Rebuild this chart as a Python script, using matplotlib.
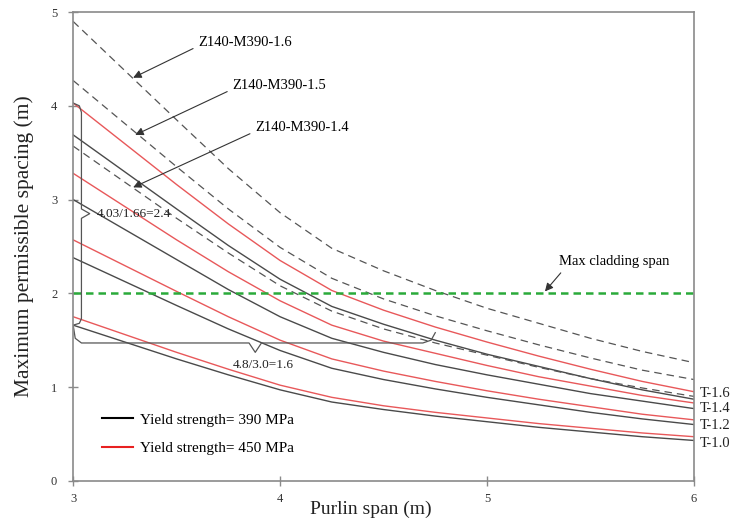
import numpy as np
import matplotlib.pyplot as plt
from matplotlib.lines import Line2D

plt.rcParams['font.family'] = 'Liberation Serif'

span = [3.0, 3.5, 3.75, 4.0, 4.25, 4.5, 4.75, 5.0, 5.25, 5.5, 5.75, 6.0]

# yield strength 390 MPa (black) / 450 MPa (red), thickness 1.0 .. 1.6
black_10 = [1.66, 1.30, 1.13, 0.97, 0.84, 0.76, 0.69, 0.63, 0.57, 0.52, 0.47, 0.43]
red_10 = [1.75, 1.37, 1.19, 1.02, 0.89, 0.80, 0.73, 0.67, 0.61, 0.56, 0.51, 0.47]
black_12 = [2.38, 1.87, 1.62, 1.39, 1.20, 1.08, 0.98, 0.89, 0.81, 0.73, 0.66, 0.60]
red_12 = [2.57, 2.02, 1.75, 1.50, 1.30, 1.17, 1.06, 0.96, 0.87, 0.79, 0.71, 0.65]
black_14 = [3.00, 2.36, 2.04, 1.75, 1.52, 1.37, 1.24, 1.13, 1.03, 0.93, 0.85, 0.77]
red_14 = [3.28, 2.57, 2.23, 1.92, 1.66, 1.49, 1.36, 1.23, 1.11, 1.01, 0.91, 0.83]
black_16 = [3.69, 2.90, 2.51, 2.15, 1.86, 1.67, 1.50, 1.35, 1.22, 1.09, 0.97, 0.87]
red_16 = [4.03, 3.16, 2.74, 2.35, 2.03, 1.82, 1.64, 1.48, 1.33, 1.19, 1.06, 0.95]

# Z140-M390 sections
z14 = [3.57, 2.80, 2.43, 2.08, 1.81, 1.62, 1.47, 1.34, 1.21, 1.09, 0.99, 0.90]
z15 = [4.27, 3.35, 2.90, 2.49, 2.16, 1.94, 1.76, 1.60, 1.45, 1.31, 1.18, 1.08]
z16 = [4.90, 3.85, 3.33, 2.86, 2.48, 2.24, 2.03, 1.84, 1.68, 1.52, 1.38, 1.26]

cladding = 2.0
t_labels = ["T-1.6", "T-1.4", "T-1.2", "T-1.0"]
t_label_y = [0.93, 0.77, 0.585, 0.40]

fig = plt.figure(figsize=(7.39, 5.26), dpi=100)
ax = fig.add_axes([0.099, 0.086, 0.84, 0.891])

blk = '#4a4a4a'
red = '#e8585a'
for ys in [black_10, black_12, black_14, black_16]:
    ax.plot(span, ys, color=blk, lw=1.0)
for ys in [red_10, red_12, red_14, red_16]:
    ax.plot(span, ys, color=red, lw=1.0)
for ys in [z14, z15, z16]:
    ax.plot(span, ys, color='#555555', lw=0.9, ls=(0, (6, 4)))

ax.axhline(cladding, color='#2aaa3a', lw=1.8, ls=(0, (3, 2)))

ax.set_xlim(3, 6)
ax.set_ylim(0, 5)
ax.set_xticks([3, 4, 5, 6])
ax.set_yticks([0, 1, 2, 3, 4, 5])
for s in ax.spines.values():
    s.set_color('#8a8a8a')
    s.set_linewidth(1.2)
ax.tick_params(direction='inout', length=7, width=1, color='#8a8a8a',
               labelsize=9, labelcolor='#333333')
ax.tick_params(axis='x', pad=5)
ax.tick_params(axis='y', pad=8)

ax.set_xlabel('Purlin span (m)', fontsize=14, color='#222222')
ax.xaxis.set_label_coords(0.48, -0.042)
ax.set_ylabel('Maximum permissible spacing (m)', fontsize=15.5, color='#222222', labelpad=12)

for lab, y in zip(t_labels, t_label_y):
    ax.text(6.03, y, lab, fontsize=10.5, va='center', ha='left', color='#222222', clip_on=False)

def arr(rp):
    return dict(arrowstyle='-|>', color='#333333', lw=0.8, mutation_scale=12,
                relpos=rp, shrinkA=2, shrinkB=0)

ax.annotate('Z140-M390-1.6', xy=(3.29, 4.3), xytext=(3.605, 4.68), fontsize=10.5,
            va='center', arrowprops=arr((0, 0.2)))
ax.annotate('Z140-M390-1.5', xy=(3.3, 3.69), xytext=(3.77, 4.22), fontsize=10.5,
            va='center', arrowprops=arr((0, 0.2)))
ax.annotate('Z140-M390-1.4', xy=(3.29, 3.13), xytext=(3.88, 3.77), fontsize=10.5,
            va='center', arrowprops=arr((0, 0.2)))
ax.annotate('Max cladding span', xy=(5.28, 2.02), xytext=(5.35, 2.27), fontsize=10.5,
            va='bottom', ha='left', arrowprops=arr((0.05, 0)))

# braces
bc = '#555555'
ax.plot([3.0, 3.03, 3.04, 3.04, 3.08, 3.04, 3.04, 3.03, 3.0],
        [4.03, 4.0, 3.93, 2.9, 2.85, 2.8, 1.73, 1.68, 1.66], color=bc, lw=0.9)
ax.text(3.115, 2.85, '4.03/1.66=2.4', fontsize=9.5, va='center', color='#222222')
ax.plot([3.0, 3.01, 3.04, 3.85, 3.88, 3.91, 4.69, 4.73, 4.75],
        [1.66, 1.52, 1.47, 1.47, 1.37, 1.47, 1.47, 1.5, 1.58], color=bc, lw=0.9)
ax.text(3.92, 1.24, '4.8/3.0=1.6', fontsize=9.5, ha='center', va='center', color='#222222')

handles = [Line2D([], [], color='black', lw=1.5), Line2D([], [], color='#e82020', lw=1.5)]
ax.legend(handles, ['Yield strength= 390 MPa', 'Yield strength= 450 MPa'],
          loc='upper left', bbox_to_anchor=(0.037, 0.158), borderaxespad=0, frameon=False,
          fontsize=11, handlelength=2.0, handletextpad=0.45, labelspacing=1.0)

fig.savefig('out.png', dpi=100)
